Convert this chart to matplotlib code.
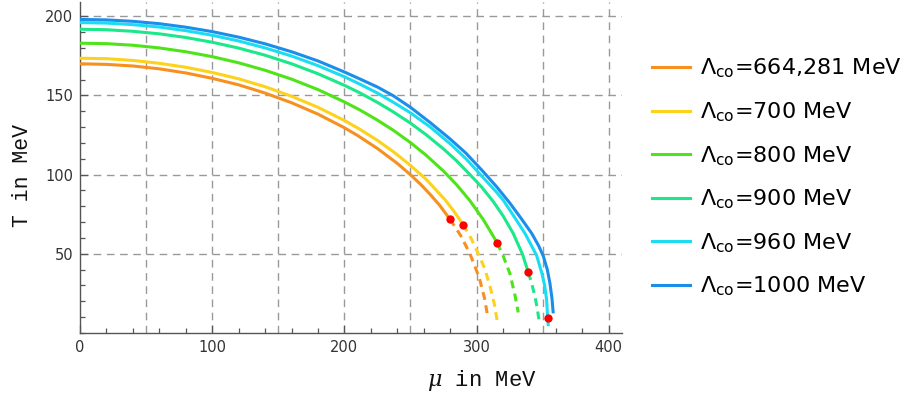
import matplotlib
matplotlib.use("Agg")
import matplotlib.pyplot as plt
from matplotlib.font_manager import FontProperties
from matplotlib.lines import Line2D
from matplotlib.ticker import MultipleLocator

# ---- data (mu in MeV, T in MeV) ----
labels = [r"$\Lambda_{\rm co}$=664,281 MeV", r"$\Lambda_{\rm co}$=700 MeV",
          r"$\Lambda_{\rm co}$=800 MeV", r"$\Lambda_{\rm co}$=900 MeV",
          r"$\Lambda_{\rm co}$=960 MeV", r"$\Lambda_{\rm co}$=1000 MeV"]
colors = ["#F7901E", "#FCD21C", "#4FE41A", "#1AE88A", "#1ADDF2", "#1A8EEB"]

# solid branches
mu_664 = [0, 20, 40, 60, 80, 100, 120, 140, 160, 180, 200, 210, 225, 240, 250, 258, 265, 272, 279.8]
T_664  = [170, 169.6, 168.6, 166.8, 164.2, 160.8, 156.7, 151.5, 145.4, 138.2, 129.6, 124.7, 116.5,
          107.1, 99.9, 93.6, 87.4, 80.7, 71.9]
mu_700 = [0, 20, 40, 60, 80, 100, 120, 140, 160, 180, 200, 212, 225, 237, 250, 262, 276, 283, 289.8]
T_700  = [173.5, 173.2, 172.1, 170.3, 167.8, 164.5, 160.5, 155.5, 149.5, 142.5, 134.2, 128.5, 121.6,
          114.5, 105.8, 96.9, 84.3, 76.7, 68.5]
mu_800 = [0, 20, 40, 60, 80, 100, 120, 140, 160, 180, 200, 212, 225, 237, 250, 262, 275, 285, 295,
          305, 310, 315.6]
T_800  = [183, 182.7, 181.7, 180, 177.6, 174.5, 170.6, 165.9, 160.3, 153.7, 145.9, 140.7, 134.4, 128,
          120.2, 112.1, 102.2, 93.5, 83.5, 71.7, 64.8, 56.9]
mu_900 = [0, 20, 40, 60, 80, 100, 120, 140, 160, 180, 200, 212, 225, 237, 250, 262, 275, 285, 295,
          304, 312.6, 320, 327.7, 334.8, 339.1]
T_900  = [191.8, 191.5, 190.5, 188.9, 186.6, 183.6, 179.9, 175.4, 170, 163.7, 156.4, 151.5, 145.6,
          139.6, 132.5, 125.1, 116.2, 108.6, 100, 92, 83, 74, 62.9, 49.6, 38.3]
mu_960 = [0, 20, 40, 60, 80, 100, 120, 140, 160, 180, 200, 212, 225, 237, 250, 265, 280, 292, 304,
          315, 320.2, 328, 336.6, 341, 345.4, 349.2, 351.5, 353, 353.8]
T_960  = [196, 195.7, 194.7, 193.2, 190.9, 188, 184.4, 180, 174.9, 168.8, 161.8, 157, 151.5, 145.7,
          139, 130, 119.5, 110, 99, 89, 83.8, 74, 62.9, 56, 49, 38.3, 30, 20.8, 9.3]
mu_1000 = [0, 20, 40, 60, 80, 100, 120, 140, 160, 180, 200, 212, 225, 237, 250, 265, 280, 292, 304,
           315, 325.2, 334, 341.7, 347, 350.5, 353.5, 355.5, 357, 358]
T_1000  = [198, 197.7, 196.8, 195.3, 193.1, 190.3, 186.8, 182.6, 177.6, 171.8, 164.8, 160.3, 155.3,
           149.8, 142.5, 132.8, 122.5, 113.5, 102.8, 92.5, 82, 72, 62.9, 55, 48.5, 40, 31.3, 22, 12.4]

# dashed continuations
dmu_664 = [279.8, 288, 295, 302, 306, 308.5]
dT_664  = [71.9, 61.5, 50, 35, 22, 10]
dmu_700 = [289.8, 296, 301, 306, 310, 313.5, 315.5]
dT_700  = [68.5, 59.5, 50.5, 41, 30, 18, 8]
dmu_800 = [315.6, 320.2, 325.2, 329, 331.5]
dT_800  = [56.9, 48.5, 37.5, 24, 13]
dmu_900 = [339.1, 341.7, 344.2, 346, 347.2]
dT_900  = [38.3, 31.3, 22.9, 15, 8.2]
dmu_960 = [353.8, 354.3]
dT_960  = [9.3, 3.5]

# red end points of the solid branches
dot_mu = [279.8, 289.8, 315.6, 339.1, 353.8]
dot_T  = [71.9, 68.5, 56.9, 38.3, 9.3]

solid = [(mu_664, T_664), (mu_700, T_700), (mu_800, T_800),
         (mu_900, T_900), (mu_960, T_960), (mu_1000, T_1000)]
dashed = [(dmu_664, dT_664), (dmu_700, dT_700), (dmu_800, dT_800),
          (dmu_900, dT_900), (dmu_960, dT_960), None]

fig = plt.figure(figsize=(9.04, 3.96), dpi=100)
ax = fig.add_axes([80 / 904, 1 - 333 / 396, 542 / 904, 331 / 396])

lw = 2.2
for (m, t), d, c in zip(solid, dashed, colors):
    ax.plot(m, t, color=c, lw=lw, solid_capstyle="butt", solid_joinstyle="round", zorder=3)
    if d is not None:
        ax.plot(d[0], d[1], color=c, lw=lw, linestyle=(0, (2.6, 1.8)),
                dash_capstyle="butt", zorder=3)
ax.plot(dot_mu, dot_T, "o", color="#FF0000", ms=6, mec="none", zorder=5)

ax.set_xlim(0, 410)
ax.set_ylim(0, 209)

# grid lines every 50
for g in range(50, 401, 50):
    ax.axvline(g, color="#999999", lw=1.0, linestyle=(0, (5.5, 4)), zorder=1)
for g in range(50, 201, 50):
    ax.axhline(g, color="#999999", lw=1.0, linestyle=(0, (5.5, 4)), zorder=1)

ax.xaxis.set_major_locator(MultipleLocator(100))
ax.xaxis.set_minor_locator(MultipleLocator(20))
ax.yaxis.set_major_locator(MultipleLocator(50))
ax.yaxis.set_minor_locator(MultipleLocator(10))
ax.set_yticks([50, 100, 150, 200])
ax.tick_params(which="both", direction="in", color="#555555", width=0.9)
ax.tick_params(which="major", length=6, labelsize=10.5, labelcolor="#333333", pad=5)
ax.tick_params(which="minor", length=3.5)
for s in ["top", "right"]:
    ax.spines[s].set_visible(False)
for s in ["left", "bottom"]:
    ax.spines[s].set_color("#555555")
    ax.spines[s].set_linewidth(1.0)

ax.set_ylabel("T in MeV", family="Liberation Mono", fontsize=15.5, color="#111111")
ax.yaxis.set_label_coords(-0.107, 0.477)
ax.set_xlabel(r"$\mu$ in MeV", family="Liberation Mono", fontsize=16, color="#111111",
              math_fontfamily="dejavuserif")
ax.xaxis.set_label_coords(0.742, -0.142)
ax.xaxis.label.set_va("center")
ax.yaxis.label.set_va("center")

handles = [Line2D([], [], color=c, lw=lw) for c in colors]
leg_font = FontProperties(family="DejaVu Sans", size=16, math_fontfamily="dejavusans")
fig.legend(handles, labels, loc="center left", bbox_to_anchor=(652 / 904, 1 - 177.5 / 396),
           frameon=False, prop=leg_font, handlelength=1.71, handletextpad=0.45,
           labelspacing=0.9, borderaxespad=0, borderpad=0)

fig.savefig("out.png", dpi=100)
